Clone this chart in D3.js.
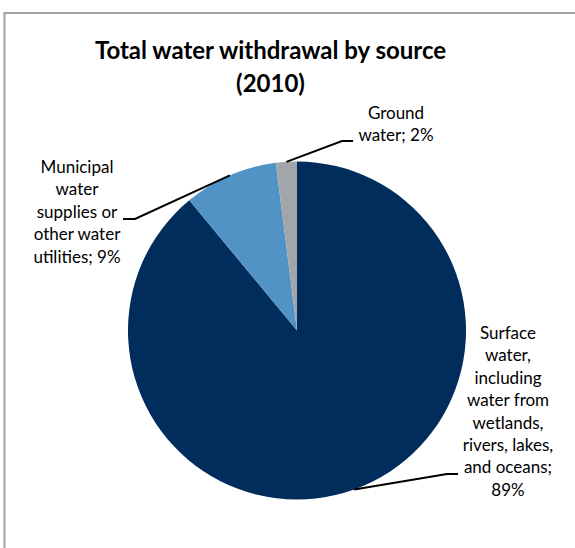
<!DOCTYPE html>
<html>
<head>
<meta charset="utf-8">
<script src="https://cdn.jsdelivr.net/npm/d3@7"></script>
<style>
  html, body { margin: 0; padding: 0; background: #fff; }
  svg { display: block; }
  text { font-family: Lato, "Open Sans", sans-serif; fill: #000; }
</style>
</head>
<body>
<div id="chart"></div>
<script>
// data
var sources = ["Surface water, including water from wetlands, rivers, lakes, and oceans",
  "Municipal water supplies or other water utilities",
  "Ground water"];
var shares = [89, 9, 2];
var labelLines = [
  ["Surface", "water,", "including", "water from", "wetlands,", "rivers, lakes,", "and oceans;", "89%"],
  ["Municipal", "water", "supplies or", "other water", "utilities; 9%"],
  ["Ground", "water; 2%"]
];
var colors = ["#002d5c", "#5193c5", "#a2a5a9"];
var titleLines = ["Total water withdrawal by source", "(2010)"];

var width = 575, height = 548;
var cx = 297, cy = 330.5, radius = 169;

var svg = d3.select("#chart")
  .append("svg")
  .attr("width", width)
  .attr("height", height);

// chart area border
svg.append("rect")
  .attr("x", 4.5)
  .attr("y", 13)
  .attr("width", 600)
  .attr("height", 600)
  .attr("fill", "none")
  .attr("stroke", "#a0a0a0")
  .attr("stroke-width", 2);

// title
svg.append("text")
  .attr("text-anchor", "middle")
  .style("font-weight", "bold")
  .style("font-size", "24px")
  .selectAll("tspan")
  .data(titleLines)
  .enter()
  .append("tspan")
  .attr("x", 270.5)
  .attr("y", function (d, i) { return 59 + i * 33; })
  .text(function (d) { return d; });

var pie = d3.pie().sort(null).value(function (d) { return d; });
var arcs = pie(shares);
var arc = d3.arc().innerRadius(0).outerRadius(radius);
var edge = d3.arc().innerRadius(radius).outerRadius(radius);

var g = svg.append("g")
  .attr("transform", "translate(" + cx + "," + cy + ")");

g.selectAll("path")
  .data(arcs)
  .enter()
  .append("path")
  .attr("d", arc)
  .attr("fill", function (d, i) { return colors[i]; });

// label placement (elbow point, line end, text centre, first baseline)
var placement = [
  { elbow: [447, 474], end: [458, 474], tx: 508, ty: 339 },
  { elbow: [135, 219], end: [123, 219], tx: 77, ty: 173 },
  { elbow: [342, 141], end: [353, 141], tx: 396, ty: 119 }
];
var lineH = 22.4;

svg.selectAll("polyline.leader")
  .data(arcs)
  .enter()
  .append("polyline")
  .attr("class", "leader")
  .attr("fill", "none")
  .attr("stroke", "#000")
  .attr("stroke-width", 2)
  .attr("points", function (d, i) {
    var c = edge.centroid(d);
    var p = placement[i];
    return [[cx + c[0], cy + c[1]], p.elbow, p.end].map(function (q) { return q.join(","); }).join(" ");
  });

svg.selectAll("text.label")
  .data(labelLines)
  .enter()
  .append("text")
  .attr("class", "label")
  .attr("text-anchor", "middle")
  .style("font-size", "17px")
  .each(function (lines, i) {
    var p = placement[i];
    d3.select(this).selectAll("tspan")
      .data(lines)
      .enter()
      .append("tspan")
      .attr("x", p.tx)
      .attr("y", function (d, j) { return p.ty + j * lineH; })
      .text(function (d) { return d; });
  });
</script>
</body>
</html>
